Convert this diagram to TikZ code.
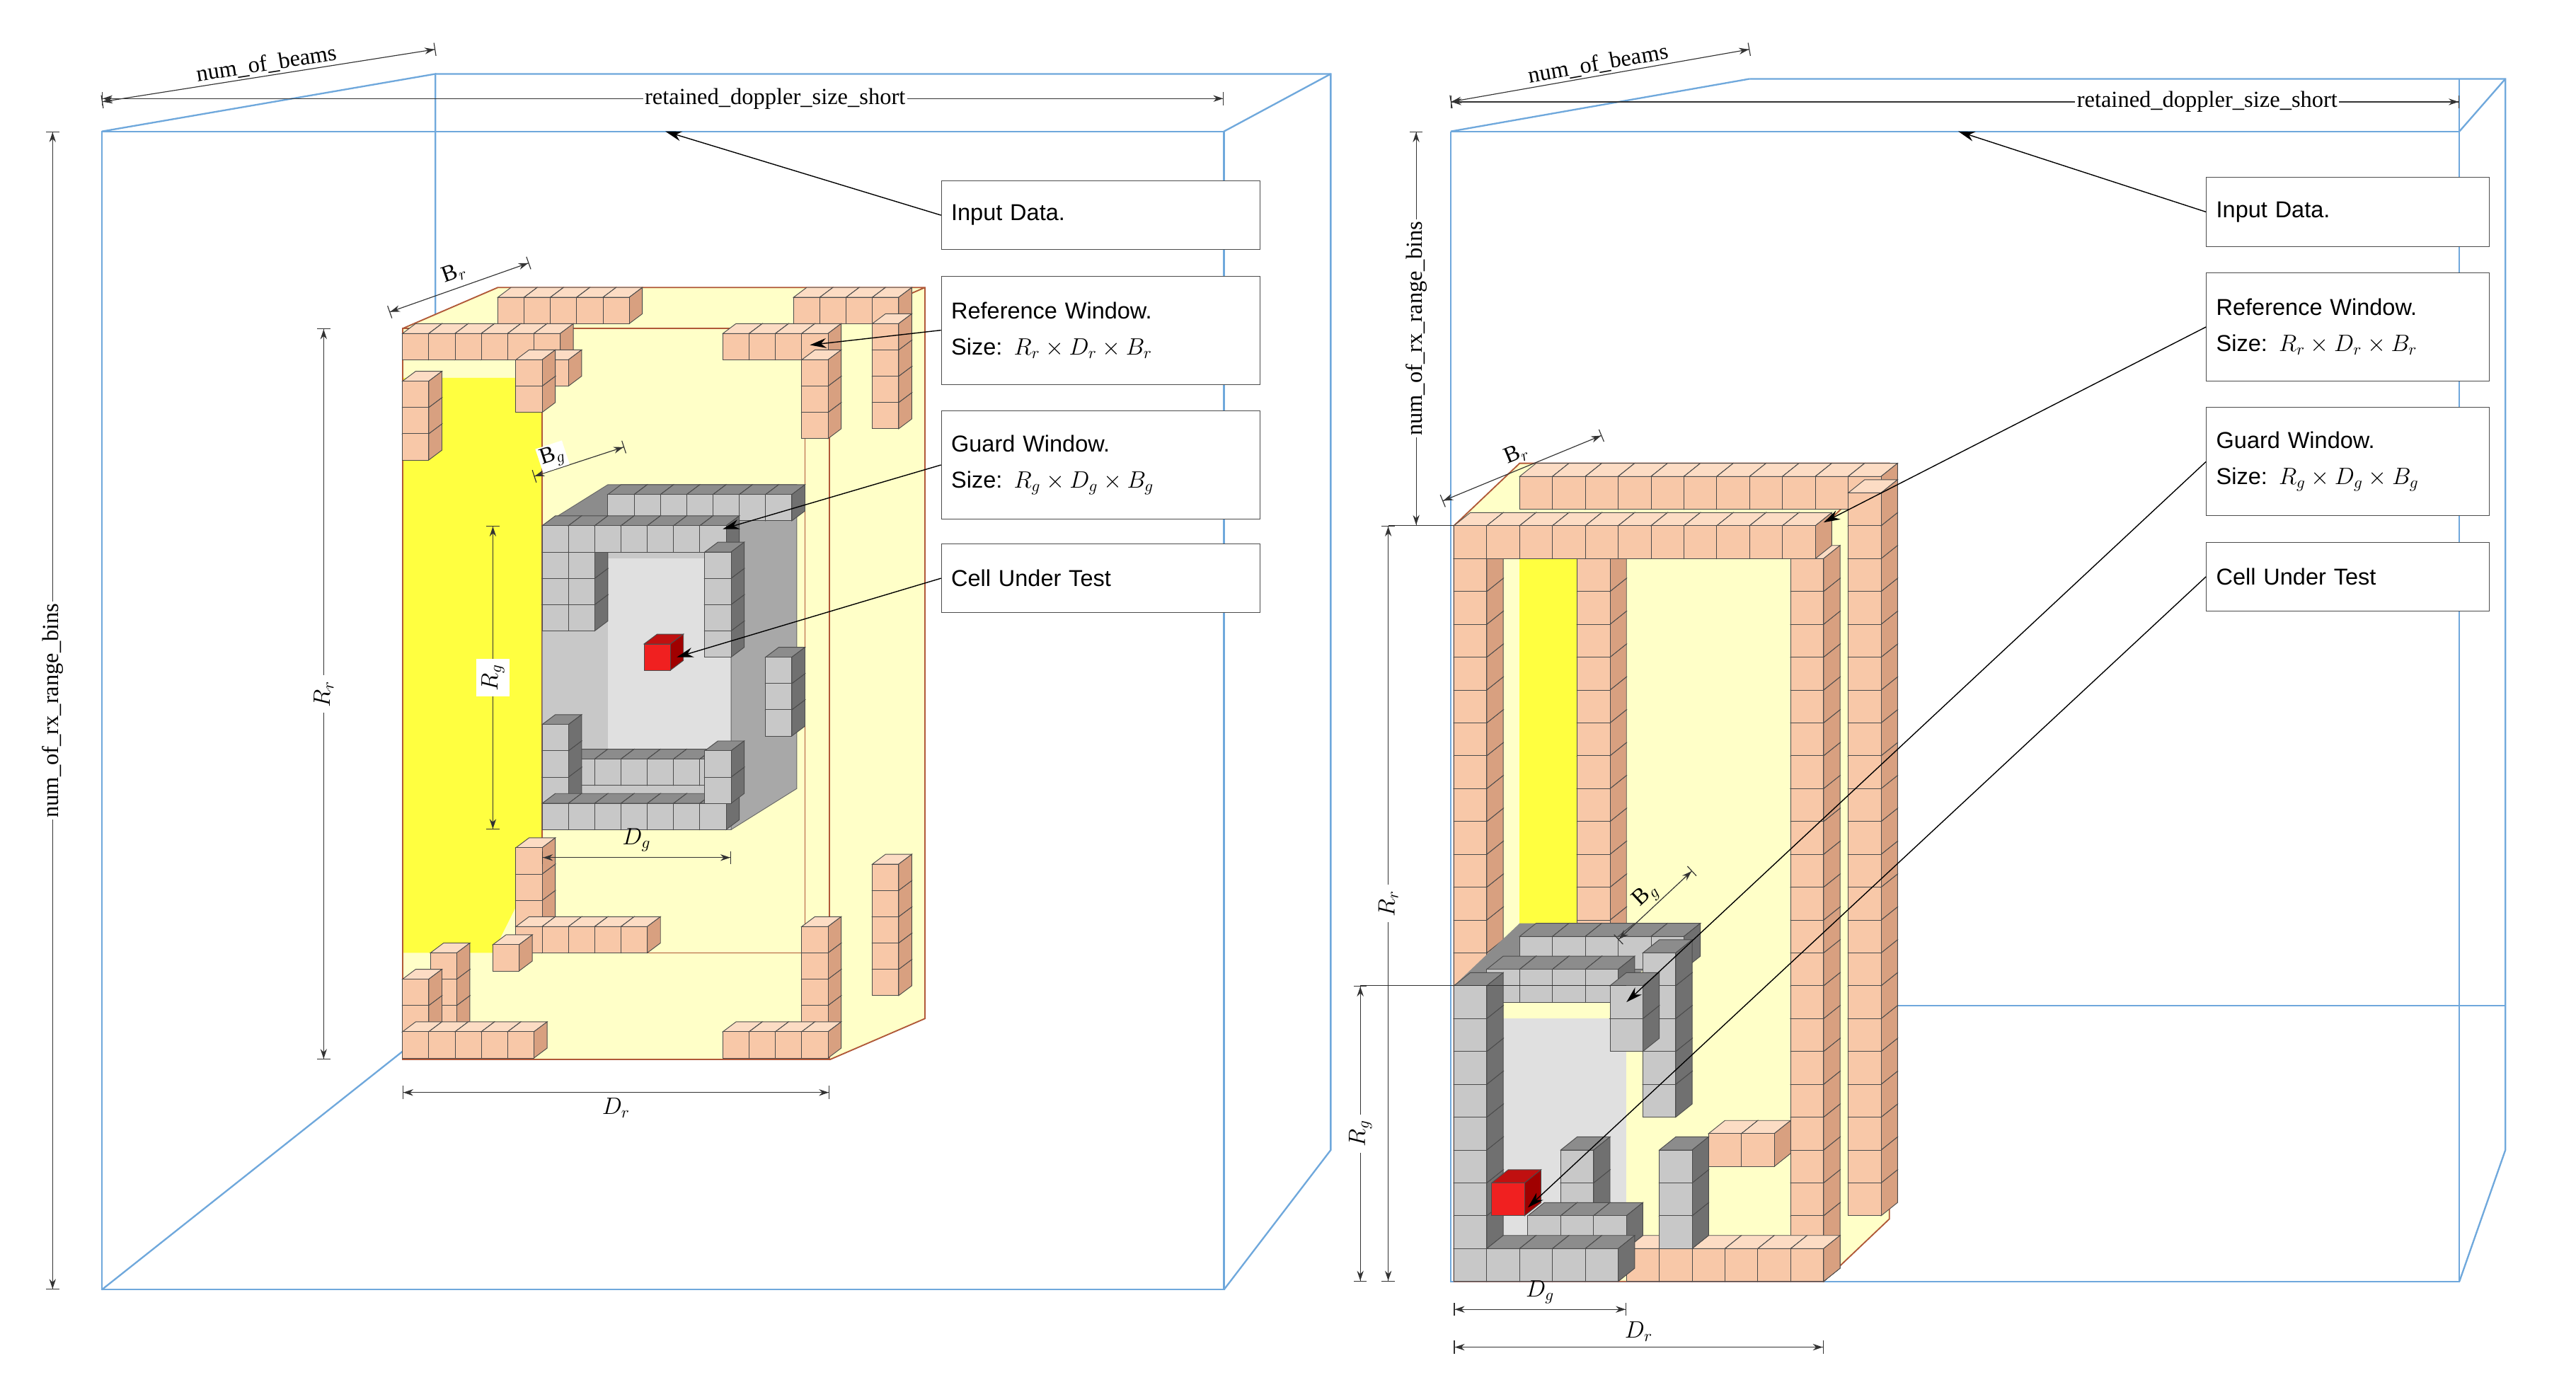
\documentclass[tikz,border=0pt]{standalone}
\usepackage{fontspec}
\setmainfont{Liberation Serif}
\newfontfamily\sfx{Liberation Sans}
\usetikzlibrary{arrows.meta}
\definecolor{pinkfront}{HTML}{F8C8A8}
\definecolor{pinktop}{HTML}{FCDCC4}
\definecolor{pinkside}{HTML}{D8A080}
\definecolor{stonefront}{HTML}{C8C8C8}
\definecolor{stonetop}{HTML}{8C8C8C}
\definecolor{stoneside}{HTML}{707070}
\definecolor{cherryfront}{HTML}{F02020}
\definecolor{cherrytop}{HTML}{C01010}
\definecolor{cherryside}{HTML}{A00000}
\definecolor{bluline}{HTML}{6FA8DC}
\definecolor{lightyel}{HTML}{FFFFC8}
\definecolor{brightyel}{HTML}{FFFF40}
\definecolor{frameclr}{HTML}{B05838}
\definecolor{stonemid}{HTML}{A8A8A8}
\definecolor{stonepale}{HTML}{E0E0E0}
\def\cbs{16}\def\cbx{8}\def\cby{-6}
\newcommand\cb[3]{%
 \filldraw[fill=#3top,draw=black!70,line width=0.4pt] (#1,#2) -- ++(\cbx,\cby) -- ++(\cbs,0) -- ++(-\cbx,-\cby) -- cycle;
 \filldraw[fill=#3side,draw=black!70,line width=0.4pt] (#1+\cbs,#2) -- ++(\cbx,\cby) -- ++(0,\cbs) -- ++(-\cbx,-\cby) -- cycle;
 \filldraw[fill=#3front,draw=black!70,line width=0.4pt] (#1,#2) rectangle ++(\cbs,\cbs);}
\newcommand\cbrow[3]{\foreach \xx in {#1} {\cb{\xx}{#2}{#3}}}
\newcommand\cbcol[3]{\foreach \yy in {#2} {\cb{#1}{\yy}{#3}}}
\tikzset{
 lbl/.style={draw=black!70,fill=white,minimum width=194pt,minimum height=42pt,align=left,text width=182pt,font=\sfx\fontsize{14}{22}\selectfont,inner sep=5pt},
 lblr/.style={lbl,minimum width=172pt,text width=160pt},
 two/.style={minimum height=66pt},
 dim/.style={draw=black!80,line width=0.5pt,{Bar[width=8pt]Stealth[length=6pt,width=4pt]}-{Stealth[length=6pt,width=4pt]Bar[width=8pt]}},
 ar/.style={draw=black,line width=0.6pt,-{Stealth[length=10pt,width=6pt]}},
 blu/.style={draw=bluline,line width=1pt},
 dl/.style={font=\fontsize{14}{16}\selectfont}
}
\begin{document}
\begin{tikzpicture}[x=1pt,y=-1pt]
\useasboundingbox (0,0) rectangle (1568,850);
\fill[white] (0,0) rectangle (1568,850);
% ===== LEFT PANEL =====
\draw[blu] (62,80) rectangle (745,785);
\draw[blu] (265,45) -- (810,45) -- (810,700) -- (745,785);
\draw[blu] (62,80) -- (265,45) -- (265,200);
\draw[blu] (745,80) -- (810,45);
\draw[blu] (62,785) -- (245,640);
\fill[lightyel] (245,200) -- (303,175) -- (563,175) -- (563,620) -- (505,645) -- (245,645) -- cycle;
\fill[brightyel] (245,230) -- (330,230) -- (330,520) -- (300,580) -- (245,580) -- cycle;
\draw[frameclr,line width=0.8pt] (245,200) rectangle (505,645);
\draw[frameclr,line width=0.8pt] (245,200) -- (303,175) -- (563,175) -- (563,620) -- (505,645) (505,200) -- (563,175);
\draw[frameclr,line width=0.6pt] (330,230) -- (330,580) -- (490,580) (490,230) -- (490,580);
\cbrow{303,319,335,351,367}{181}{pink}
\cbrow{483,499,515,531}{181}{pink}
\cbcol{531}{245,229,213,197}{pink}
\cbcol{531}{590,574,558,542,526}{pink}
\cbcol{245}{264,248,232}{pink}
\cbrow{245,261,277,293,309,325}{203}{pink}
\cb{330}{219}{pink}
\cbcol{314}{235,219}{pink}
\cbrow{440,456,472,488}{203}{pink}
\cbcol{488}{251,235,219}{pink}
\cbcol{314}{548,532,516}{pink}
\cbrow{314,330,346,362,378}{564}{pink}
\cb{300}{575}{pink}
\cbcol{262}{612,596,580}{pink}
\cbcol{245}{628,612,596}{pink}
\cbrow{245,261,277,293,309}{628}{pink}
\cbcol{488}{612,596,580,564}{pink}
\cbrow{440,456,472,488}{628}{pink}
\fill[stonefront] (330,320) rectangle (445,505);
\fill[stonepale] (370,340) rectangle (445,460);
\fill[stonetop] (330,320) -- (370,295) -- (485,295) -- (445,320) -- cycle;
\fill[stonemid] (445,320) -- (485,295) -- (485,480) -- (445,505) -- cycle;
\draw[black!60] (330,320) rectangle (445,505) (330,320) -- (370,295) -- (485,295) -- (485,480) -- (445,505) (445,320) -- (485,295);
\cbrow{370,386,402,418,434,450,466}{301}{stone}
\cbcol{330}{368,352,336,320}{stone}
\cbcol{346}{368,352,336,320}{stone}
\cbrow{362,378,394,410,426}{320}{stone}
\cbcol{429}{384,368,352,336}{stone}
\cbcol{466}{432,416,400}{stone}
\cbrow{346,362,378,394,410,426}{462}{stone}
\cbcol{330}{473,457,441}{stone}
\cbrow{330,346,362,378,394,410,426}{489}{stone}
\cbcol{429}{473,457}{stone}
\cb{392}{392}{cherry}
\draw[dim] (62,62) -- (265,30) node[midway,above,sloped,dl,inner sep=1pt] {num\_of\_beams};
\draw[dim] (62,60) -- (745,60) node[pos=0.6,fill=white,dl,inner sep=1pt] {retained\_doppler\_size\_short};
\draw[dim] (32,80) -- (32,785) node[midway,fill=white,dl,rotate=90,inner sep=1pt] {num\_of\_rx\_range\_bins};
\draw[dim] (237,190) -- (322,160) node[midway,above,sloped,dl] {B$_r$};
\draw[dim] (197,200) -- (197,645) node[midway,fill=white,dl,rotate=90] {$R_r$};
\draw[dim] (300,320) -- (300,505) node[midway,fill=white,dl,rotate=90] {$R_g$};
\draw[dim] (330,522) -- (445,522) node[midway,above,dl] {$D_g$};
\draw[dim] (245,665) -- (505,665) node[midway,below,dl] {$D_r$};
\draw[dim] (325,290) -- (380,272) node[pos=0.25,above,sloped,dl,fill=white,inner sep=1pt] {B$_g$};
\node[lbl] (in1) at (670,131) {Input Data.};
\node[lbl,two] (rw1) at (670,201) {Reference Window.\\Size: $R_r\times D_r\times B_r$};
\node[lbl,two] (gw1) at (670,283) {Guard Window.\\Size: $R_g\times D_g\times B_g$};
\node[lbl] (cu1) at (670,352) {Cell Under Test};
\coordinate (a1) at (405,80);\coordinate (a2) at (493,210);\coordinate (a3) at (440,322);\coordinate (a4) at (412,400);
\draw[ar] (in1.west) -- (a1);
\draw[ar] (rw1.west) -- (a2);
\draw[ar] (gw1.west) -- (a3);
\draw[ar] (cu1.west) -- (a4);
% ===== RIGHT PANEL =====
\draw[blu] (883,80) -- (883,780) -- (1497,780) -- (1497,48);
\draw[blu] (883,80) -- (1497,80);
\draw[blu] (1065,48) -- (1525,48) -- (1525,700) -- (1497,780);
\draw[blu] (883,80) -- (1065,48) (1497,80) -- (1525,48);
\draw[blu] (1150,612) -- (1525,612);
\fill[lightyel] (885,320) -- (925,282) -- (1150,282) -- (1150,742) -- (1110,780) -- (885,780) -- cycle;
\fill[brightyel] (925,340) rectangle (960,580);
\draw[frameclr,line width=0.8pt] (885,320) rectangle (1110,780) (885,320) -- (925,282) -- (1150,282) -- (1150,742) -- (1110,780) (1110,320) -- (1150,282);
\draw[frameclr,line width=0.6pt] (905,340) rectangle (1090,760);
\draw[frameclr,line width=0.6pt] (1130,300) -- (1130,740);
\def\cbs{20}\def\cbx{10}\def\cby{-8}
\cbrow{925,945,965,985,1005,1025,1045,1065,1085,1105,1125}{290}{pink}
\cbcol{1125}{720,700,680,660,640,620,600,580,560,540,520,500,480,460,440,420,400,380,360,340,320,300}{pink}
\cbcol{960}{560,540,520,500,480,460,440,420,400,380,360,340}{pink}
\cbrow{1040,1060}{690}{pink}
\cbcol{885}{580,560,540,520,500,480,460,440,420,400,380,360,340}{pink}
\cbcol{1090}{760,740,720,700,680,660,640,620,600,580,560,540,520,500,480,460,440,420,400,380,360,340}{pink}
\cbrow{990,1010,1030,1050,1070,1090}{760}{pink}
\cbrow{885,905,925,945,965,985,1005,1025,1045,1065,1085}{320}{pink}
\fill[stonepale] (905,620) rectangle (990,760);
\fill[stonetop] (885,600) -- (925,562) -- (1030,562) -- (990,600) -- cycle;
\cbrow{925,945,965,985,1005}{570}{stone}
\cbcol{1000}{660,640,620,600,580}{stone}
\cbrow{905,925,945,965}{590}{stone}
\cbcol{980}{620,600}{stone}
\cbcol{885}{760,740,720,700,680,660,640,620,600}{stone}
\cbcol{1010}{740,720,700}{stone}
\cbcol{950}{720,700}{stone}
\cbrow{930,950,970}{740}{stone}
\cbrow{905,925,945,965}{760}{stone}
\cb{908}{720}{cherry}
\draw[dim] (883,62) -- (1065,30) node[midway,above,sloped,dl,inner sep=1pt] {num\_of\_beams};
\draw[dim] (883,62) -- (1497,62) node[pos=0.75,fill=white,dl,inner sep=1pt] {retained\_doppler\_size\_short};
\draw[dim] (862,80) -- (862,320) node[midway,fill=white,dl,rotate=90,inner sep=1pt] {num\_of\_rx\_range\_bins};
\draw[dim] (878,305) -- (975,265) node[midway,above,sloped,dl] {B$_r$};
\draw[dim] (845,320) -- (845,780) node[midway,fill=white,dl,rotate=90] {$R_r$};
\draw[dim] (828,600) -- (828,780) node[midway,fill=white,dl,rotate=90] {$R_g$};
\draw[dim] (885,797) -- (990,797) node[midway,above,dl] {$D_g$};
\draw[dim] (885,820) -- (1110,820) node[midway,above,dl] {$D_r$};
\draw[dim] (985,572) -- (1030,530) node[midway,above,sloped,dl,inner sep=1pt] {B$_g$};
\draw[black!80,line width=0.5pt] (828,600) -- (990,600) (845,320) -- (885,320);
\node[lblr] (in2) at (1429,129) {Input Data.};
\node[lblr,two] (rw2) at (1429,199) {Reference Window.\\Size: $R_r\times D_r\times B_r$};
\node[lblr,two] (gw2) at (1429,281) {Guard Window.\\Size: $R_g\times D_g\times B_g$};
\node[lblr] (cu2) at (1429,351) {Cell Under Test};
\coordinate (b1) at (1192,80);\coordinate (b2) at (1110,318);\coordinate (b3) at (990,610);\coordinate (b4) at (930,735);
\draw[ar] (in2.west) -- (b1);
\draw[ar] (rw2.west) -- (b2);
\draw[ar] (gw2.west) -- (b3);
\draw[ar] (cu2.west) -- (b4);
\end{tikzpicture}
\end{document}
